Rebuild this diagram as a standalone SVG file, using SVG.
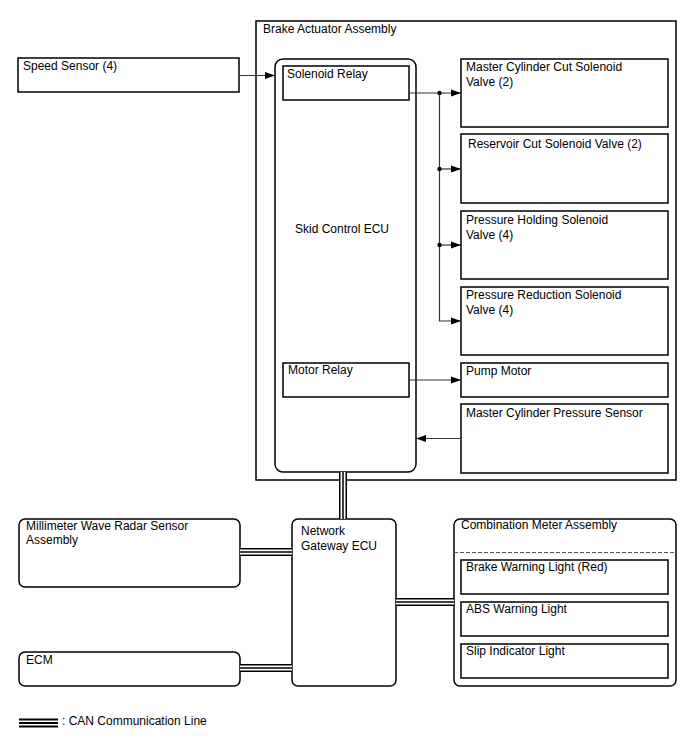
<svg xmlns="http://www.w3.org/2000/svg" width="688" height="755" viewBox="0 0 688 755">
<defs>
<style>
text{font-family:"Liberation Sans",Arial,sans-serif;font-size:12px;fill:#000}
.box{fill:#fff;stroke:#000;stroke-width:1.5}
.ln{fill:none;stroke:#333;stroke-width:1.2}
.canA{fill:none;stroke:#000;stroke-width:8}
.canB{fill:none;stroke:#fff;stroke-width:5}
.canC{fill:none;stroke:#000;stroke-width:1.5}
</style>
<marker id="ar" viewBox="0 0 10 8" refX="10" refY="4" markerWidth="10" markerHeight="8" markerUnits="userSpaceOnUse" orient="auto">
<path d="M0,0.5 L10,4 L0,7.5 Z" fill="#000"/>
</marker>
</defs>
<rect width="688" height="755" fill="#fff"/>
<g id="brake-actuator"><rect class="box" x="256" y="21" width="420" height="459"/><text x="263" y="33">Brake Actuator Assembly</text></g>
<g id="speed-sensor"><rect class="box" x="18" y="58" width="221" height="34"/><text x="23" y="70">Speed Sensor (4)</text></g>
<g id="skid-ecu"><rect class="box" x="275" y="59" width="141" height="413" rx="8"/><text x="295" y="233">Skid Control ECU</text></g>
<g id="solenoid-relay"><rect class="box" x="283" y="66" width="126" height="34"/><text x="287" y="78">Solenoid Relay</text></g>
<g id="motor-relay"><rect class="box" x="283" y="363" width="126" height="34"/><text x="288" y="374">Motor Relay</text></g>
<g id="mc-cut"><rect class="box" x="461" y="59" width="207" height="68"/><text x="466" y="71">Master Cylinder Cut Solenoid</text><text x="466" y="85.5">Valve (2)</text></g>
<g id="res-cut"><rect class="box" x="461" y="134" width="207" height="69"/><text x="468" y="148">Reservoir Cut Solenoid Valve (2)</text></g>
<g id="p-hold"><rect class="box" x="461" y="211" width="207" height="68"/><text x="466" y="224">Pressure Holding Solenoid</text><text x="466" y="238.5">Valve (4)</text></g>
<g id="p-red"><rect class="box" x="461" y="287" width="207" height="68"/><text x="466" y="299">Pressure Reduction Solenoid</text><text x="466" y="313.5">Valve (4)</text></g>
<g id="pump-motor"><rect class="box" x="461" y="363" width="207" height="34"/><text x="466" y="375">Pump Motor</text></g>
<g id="mc-sensor"><rect class="box" x="461" y="404" width="207" height="69"/><text x="466" y="417">Master Cylinder Pressure Sensor</text></g>
<g id="mwr"><rect class="box" x="19" y="519" width="221" height="68" rx="6"/><text x="26" y="530">Millimeter Wave Radar Sensor</text><text x="26" y="544">Assembly</text></g>
<g id="ecm"><rect class="box" x="19" y="652" width="221" height="34" rx="6"/><text x="26" y="664">ECM</text></g>
<g id="gateway"><rect class="box" x="292" y="519" width="104" height="167" rx="6"/><text x="301" y="535">Network</text><text x="301" y="550">Gateway ECU</text></g>
<g id="combination-meter"><rect class="box" x="454" y="519" width="222" height="167" rx="6"/><text x="461" y="529">Combination Meter Assembly</text><line x1="454" y1="552.5" x2="676" y2="552.5" stroke="#555" stroke-width="1" stroke-dasharray="4,2"/></g>
<g id="brake-light"><rect class="box" x="461" y="560" width="207" height="34"/><text x="466" y="571">Brake Warning Light (Red)</text></g>
<g id="abs-light"><rect class="box" x="461" y="602" width="207" height="34"/><text x="466" y="613">ABS Warning Light</text></g>
<g id="slip-light"><rect class="box" x="461" y="644" width="207" height="34"/><text x="466" y="655">Slip Indicator Light</text></g>
<g id="connectors">
<line class="ln" x1="239" y1="75.5" x2="275" y2="75.5" marker-end="url(#ar)"/>
<line class="ln" x1="409" y1="93" x2="461" y2="93" marker-end="url(#ar)"/>
<polyline class="ln" points="439.5,93 439.5,321 461,321" marker-end="url(#ar)"/>
<line class="ln" x1="439.5" y1="169" x2="461" y2="169" marker-end="url(#ar)"/>
<line class="ln" x1="439.5" y1="245" x2="461" y2="245" marker-end="url(#ar)"/>
<circle cx="439.5" cy="93" r="2.2" fill="#000"/>
<circle cx="439.5" cy="169" r="2.2" fill="#000"/>
<circle cx="439.5" cy="245" r="2.2" fill="#000"/>
<line class="ln" x1="409" y1="380" x2="461" y2="380" marker-end="url(#ar)"/>
<line class="ln" x1="461" y1="438.5" x2="416" y2="438.5" marker-end="url(#ar)"/>
<path class="canA" d="M343,472 V519 M240,552 H292 M240,668 H292 M396,602 H454"/>
<path class="canB" d="M343,472 V519 M240,552 H292 M240,668 H292 M396,602 H454"/>
<path class="canC" d="M343,472 V519 M240,552 H292 M240,668 H292 M396,602 H454"/>
</g>
<g id="legend">
<rect x="19" y="718.5" width="39" height="2" fill="#000"/>
<rect x="19" y="722" width="39" height="2" fill="#000"/>
<rect x="19" y="725.5" width="39" height="2" fill="#000"/>
<text x="62" y="725">: CAN Communication Line</text>
</g>
</svg>
